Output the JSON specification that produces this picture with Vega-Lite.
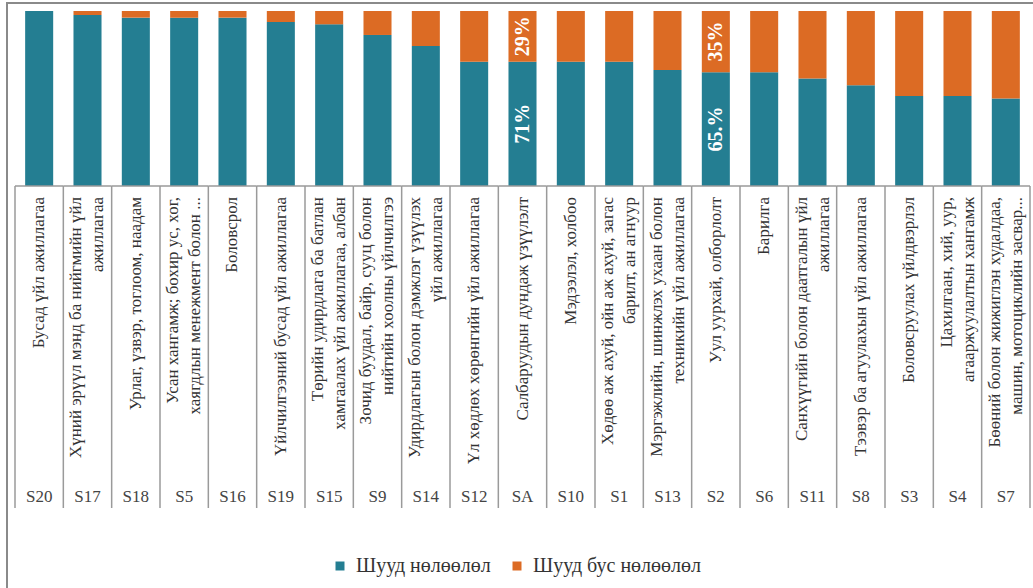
{
  "$schema": "https://vega.github.io/schema/vega-lite/v6.json",
  "autosize": "none",
  "padding": {"left": 7, "top": 3, "right": 0, "bottom": 0},
  "width": 1031,
  "height": 595,
  "background": "white",
  "config": {
    "view": {"stroke": "#8a8a8a", "strokeWidth": 2},
    "legend": {
      "orient": "none", "legendX": 323, "legendY": 553, "direction": "horizontal",
      "symbolType": "square", "symbolSize": 81, "symbolStrokeWidth": 0,
      "labelFont": "Liberation Serif", "labelFontSize": 20, "labelColor": "#333333", "labelLimit": 0,
      "columnPadding": 16, "labelOffset": 6, "padding": 0, "title": null
    }
  },
  "datasets": {
    "bars": [
      {"code": "S20", "impact": "Шууд нөлөөлөл", "value": 100, "pct": ""},
      {"code": "S20", "impact": "Шууд бус нөлөөлөл", "value": 0, "pct": ""},
      {"code": "S17", "impact": "Шууд нөлөөлөл", "value": 97.7, "pct": ""},
      {"code": "S17", "impact": "Шууд бус нөлөөлөл", "value": 2.3, "pct": ""},
      {"code": "S18", "impact": "Шууд нөлөөлөл", "value": 96.2, "pct": ""},
      {"code": "S18", "impact": "Шууд бус нөлөөлөл", "value": 3.8, "pct": ""},
      {"code": "S5", "impact": "Шууд нөлөөлөл", "value": 96.2, "pct": ""},
      {"code": "S5", "impact": "Шууд бус нөлөөлөл", "value": 3.8, "pct": ""},
      {"code": "S16", "impact": "Шууд нөлөөлөл", "value": 96.2, "pct": ""},
      {"code": "S16", "impact": "Шууд бус нөлөөлөл", "value": 3.8, "pct": ""},
      {"code": "S19", "impact": "Шууд нөлөөлөл", "value": 93.7, "pct": ""},
      {"code": "S19", "impact": "Шууд бус нөлөөлөл", "value": 6.3, "pct": ""},
      {"code": "S15", "impact": "Шууд нөлөөлөл", "value": 92.4, "pct": ""},
      {"code": "S15", "impact": "Шууд бус нөлөөлөл", "value": 7.6, "pct": ""},
      {"code": "S9", "impact": "Шууд нөлөөлөл", "value": 86.3, "pct": ""},
      {"code": "S9", "impact": "Шууд бус нөлөөлөл", "value": 13.7, "pct": ""},
      {"code": "S14", "impact": "Шууд нөлөөлөл", "value": 80, "pct": ""},
      {"code": "S14", "impact": "Шууд бус нөлөөлөл", "value": 20, "pct": ""},
      {"code": "S12", "impact": "Шууд нөлөөлөл", "value": 71, "pct": ""},
      {"code": "S12", "impact": "Шууд бус нөлөөлөл", "value": 29, "pct": ""},
      {"code": "SA", "impact": "Шууд нөлөөлөл", "value": 71, "pct": "71%"},
      {"code": "SA", "impact": "Шууд бус нөлөөлөл", "value": 29, "pct": "29%"},
      {"code": "S10", "impact": "Шууд нөлөөлөл", "value": 71, "pct": ""},
      {"code": "S10", "impact": "Шууд бус нөлөөлөл", "value": 29, "pct": ""},
      {"code": "S1", "impact": "Шууд нөлөөлөл", "value": 71, "pct": ""},
      {"code": "S1", "impact": "Шууд бус нөлөөлөл", "value": 29, "pct": ""},
      {"code": "S13", "impact": "Шууд нөлөөлөл", "value": 66.3, "pct": ""},
      {"code": "S13", "impact": "Шууд бус нөлөөлөл", "value": 33.7, "pct": ""},
      {"code": "S2", "impact": "Шууд нөлөөлөл", "value": 65, "pct": "65.%"},
      {"code": "S2", "impact": "Шууд бус нөлөөлөл", "value": 35, "pct": "35%"},
      {"code": "S6", "impact": "Шууд нөлөөлөл", "value": 65, "pct": ""},
      {"code": "S6", "impact": "Шууд бус нөлөөлөл", "value": 35, "pct": ""},
      {"code": "S11", "impact": "Шууд нөлөөлөл", "value": 61.4, "pct": ""},
      {"code": "S11", "impact": "Шууд бус нөлөөлөл", "value": 38.6, "pct": ""},
      {"code": "S8", "impact": "Шууд нөлөөлөл", "value": 57.5, "pct": ""},
      {"code": "S8", "impact": "Шууд бус нөлөөлөл", "value": 42.5, "pct": ""},
      {"code": "S3", "impact": "Шууд нөлөөлөл", "value": 51.4, "pct": ""},
      {"code": "S3", "impact": "Шууд бус нөлөөлөл", "value": 48.6, "pct": ""},
      {"code": "S4", "impact": "Шууд нөлөөлөл", "value": 51.4, "pct": ""},
      {"code": "S4", "impact": "Шууд бус нөлөөлөл", "value": 48.6, "pct": ""},
      {"code": "S7", "impact": "Шууд нөлөөлөл", "value": 50, "pct": ""},
      {"code": "S7", "impact": "Шууд бус нөлөөлөл", "value": 50, "pct": ""}
    ],
    "cats": [
      {"code": "S20", "label": "Бусад үйл ажиллагаа"},
      {"code": "S17", "label": "Хүний эрүүл мэнд ба нийгмийн үйл\nажиллагаа"},
      {"code": "S18", "label": "Урлаг, үзвэр, тоглоом, наадам"},
      {"code": "S5", "label": "Усан хангамж; бохир ус, хог,\nхаягдлын менежмент болон ..."},
      {"code": "S16", "label": "Боловсрол"},
      {"code": "S19", "label": "Үйлчилгээний бусад үйл ажиллагаа"},
      {"code": "S15", "label": "Төрийн удирдлага ба батлан\nхамгаалах үйл ажиллагаа, албан"},
      {"code": "S9", "label": "Зочид буудал, байр, сууц болон\nнийтийн хоолны үйлчилгээ"},
      {"code": "S14", "label": "Удирдлагын болон дэмжлэг үзүүлэх\nүйл ажиллагаа"},
      {"code": "S12", "label": "Үл хөдлөх хөрөнгийн үйл ажиллагаа"},
      {"code": "SA", "label": "Салбаруудын дундаж үзүүлэлт"},
      {"code": "S10", "label": "Мэдээлэл,  холбоо"},
      {"code": "S1", "label": "Хөдөө аж ахуй, ойн аж ахуй, загас\nбарилт, ан агнуур"},
      {"code": "S13", "label": "Мэргэжлийн,  шинжлэх ухаан болон\nтехникийн үйл ажиллагаа"},
      {"code": "S2", "label": "Уул уурхай, олборлолт"},
      {"code": "S6", "label": "Барилга"},
      {"code": "S11", "label": "Санхүүгийн болон даатгалын үйл\nажиллагаа"},
      {"code": "S8", "label": "Тээвэр ба агуулахын үйл ажиллагаа"},
      {"code": "S3", "label": "Боловсруулах үйлдвэрлэл"},
      {"code": "S4", "label": "Цахилгаан, хий, уур,\nагааржуулалтын хангамж"},
      {"code": "S7", "label": "Бөөний болон жижиглэн худалдаа,\nмашин, мотоциклийн засвар..."}
    ]
  },
  "encoding": {
    "x": {
      "field": "code", "type": "nominal", "axis": null,
      "scale": {
        "domain": ["S20","S17","S18","S5","S16","S19","S15","S9","S14","S12","SA","S10","S1","S13","S2","S6","S11","S8","S3","S4","S7"],
        "paddingInner": 0, "paddingOuter": 0.1655
      }
    }
  },
  "layer": [
    {
      "data": {"name": "bars"},
      "mark": {"type": "bar", "width": {"band": 0.58}},
      "encoding": {
        "y": {"field": "value", "type": "quantitative", "stack": "zero", "axis": null,
              "scale": {"domain": [-235.43, 104.57], "nice": false, "zero": false}},
        "color": {"field": "impact", "type": "nominal",
                  "scale": {"domain": ["Шууд нөлөөлөл", "Шууд бус нөлөөлөл"], "range": ["#247E92", "#DC6B24"]}},
        "order": {"field": "impact", "sort": "descending"}
      }
    },
    {
      "data": {"name": "bars"},
      "transform": [{"filter": "datum.pct != ''"}],
      "mark": {"type": "text", "angle": 270, "align": "center", "baseline": "middle",
               "font": "Liberation Serif", "fontSize": 20, "fontWeight": "bold", "color": "white"},
      "encoding": {
        "y": {"field": "value", "type": "quantitative", "stack": "zero", "bandPosition": 0.5},
        "order": {"field": "impact", "sort": "descending"},
        "text": {"field": "pct", "type": "nominal"}
      }
    },
    {
      "data": {"name": "cats"},
      "mark": {"type": "rect", "color": "#9a9a9a"},
      "encoding": {
        "y": {"datum": 0.4, "type": "quantitative"},
        "y2": {"datum": -0.5}
      }
    },
    {
      "data": {"name": "cats"},
      "mark": {"type": "rule", "color": "#9a9a9a", "strokeWidth": 1.5},
      "encoding": {
        "x": {"field": "code", "type": "nominal", "bandPosition": 0},
        "y": {"datum": 0, "type": "quantitative"},
        "y2": {"datum": -184}
      }
    },
    {
      "data": {"name": "cats"},
      "transform": [{"filter": "datum.code == 'S7'"}],
      "mark": {"type": "rule", "color": "#9a9a9a", "strokeWidth": 1.5},
      "encoding": {
        "x": {"field": "code", "type": "nominal", "bandPosition": 1},
        "y": {"datum": 0, "type": "quantitative"},
        "y2": {"datum": -184}
      }
    },
    {
      "data": {"name": "cats"},
      "transform": [{"filter": "indexof(datum.label, '\\n') < 0"}],
      "mark": {"type": "text", "angle": 270, "align": "right", "baseline": "middle",
               "font": "Liberation Serif", "fontSize": 17, "color": "#333333"},
      "encoding": {
        "y": {"datum": -6.3, "type": "quantitative"},
        "text": {"field": "label", "type": "nominal"}
      }
    },
    {
      "data": {"name": "cats"},
      "transform": [{"filter": "indexof(datum.label, '\\n') >= 0"}],
      "mark": {"type": "text", "angle": 270, "align": "right", "baseline": "middle", "dy": -11,
               "font": "Liberation Serif", "fontSize": 17, "lineHeight": 22, "lineBreak": "\n", "color": "#333333"},
      "encoding": {
        "y": {"datum": -6.3, "type": "quantitative"},
        "text": {"field": "label", "type": "nominal"}
      }
    },
    {
      "data": {"name": "cats"},
      "mark": {"type": "text", "align": "center", "baseline": "middle",
               "font": "Liberation Serif", "fontSize": 17, "color": "#444444"},
      "encoding": {
        "y": {"datum": -177.7, "type": "quantitative"},
        "text": {"field": "code", "type": "nominal"}
      }
    }
  ]
}
